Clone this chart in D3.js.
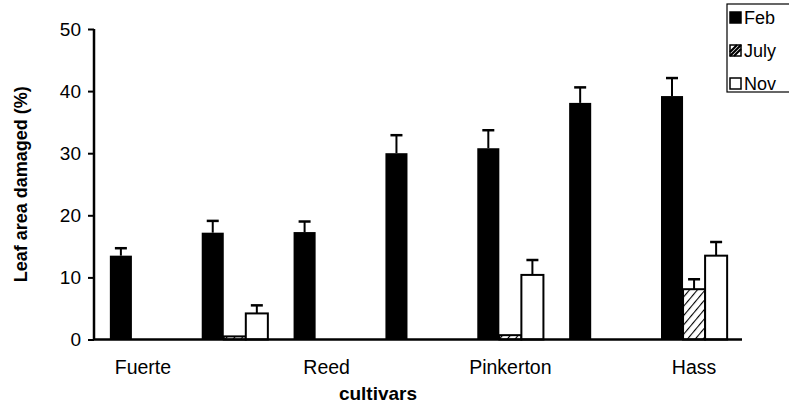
<!DOCTYPE html>
<html>
<head>
<meta charset="utf-8">
<script src="https://cdn.jsdelivr.net/npm/d3@7"></script>
<style>
  body { margin: 0; background: #fff; }
  text { font-family: "Liberation Sans", Arial, sans-serif; fill: #000; }
</style>
</head>
<body>
<script>
// cultivar groups (only every other one is labelled on the axis)
const categories = ['Fuerte', 'g2', 'Reed', 'g4', 'Pinkerton', 'g6', 'Hass']
const tickLabels = ['Fuerte', '', 'Reed', '', 'Pinkerton', '', 'Hass']
const seasons = ['Feb', 'July', 'Nov']

const feb = [13.5, 17.2, 17.3, 30.0, 30.8, 38.1, 39.2]
const febErr = [1.2, 1.9, 1.7, 2.9, 2.9, 2.5, 2.9]
const july = [null, 0.5, null, null, 0.7, null, 8.1]
const julyErr = [null, 0, null, null, 0, null, 1.6]
const nov = [null, 4.2, null, null, 10.4, null, 13.5]
const novErr = [null, 1.3, null, null, 2.4, null, 2.2]

const yTicks = [0, 10, 20, 30, 40, 50]

const W = 789, H = 407
const svg = d3.select('body').append('svg').attr('width', W).attr('height', H)

const defs = svg.append('defs')
const hatch = defs.append('pattern')
  .attr('id', 'hatch')
  .attr('patternUnits', 'userSpaceOnUse')
  .attr('width', 6).attr('height', 6)
  .attr('patternTransform', 'rotate(40)')
hatch.append('rect').attr('width', 6).attr('height', 6).attr('fill', '#fff')
hatch.append('line')
  .attr('x1', 0).attr('y1', 0).attr('x2', 0).attr('y2', 6)
  .attr('stroke', '#000').attr('stroke-width', 2.2)

const x = d3.scaleBand().domain(d3.range(categories.length)).range([97, 740])
  .paddingInner(0.28).paddingOuter(0.14)
const xs = d3.scaleBand().domain(seasons).range([0, x.bandwidth()])
const y = d3.scaleLinear().domain([0, 50]).range([339.5, 29])

const rows = []
categories.forEach((c, i) => {
  ;[[feb, febErr], [july, julyErr], [nov, novErr]].forEach(([vals, errs], k) => {
    if (vals[i] != null) rows.push({ i, s: seasons[k], v: vals[i], e: errs[i] })
  })
})

const fill = { Feb: '#000', July: 'url(#hatch)', Nov: '#fff' }

// bars
svg.append('g').selectAll('rect')
  .data(rows)
  .join('rect')
  .attr('x', d => x(d.i) + xs(d.s))
  .attr('width', xs.bandwidth())
  .attr('y', d => y(d.v))
  .attr('height', d => y(0) - y(d.v))
  .attr('fill', d => fill[d.s])
  .attr('stroke', '#000')
  .attr('stroke-width', d => d.s === 'Feb' ? 0 : 2)

// error bars
const eb = svg.append('g').attr('stroke', '#000').attr('stroke-width', 2)
  .selectAll('g')
  .data(rows.filter(d => d.e > 0))
  .join('g')
  .attr('transform', d => `translate(${x(d.i) + xs(d.s) + xs.bandwidth() / 2},0)`)
eb.append('line')
  .attr('y1', d => y(d.v)).attr('y2', d => y(d.v + d.e))
eb.append('line')
  .attr('x1', -6).attr('x2', 6)
  .attr('y1', d => y(d.v + d.e)).attr('y2', d => y(d.v + d.e))
  .attr('stroke-width', 2.5)

// y axis
const yAxis = svg.append('g')
  .attr('transform', 'translate(94,0)')
  .call(d3.axisLeft(y).tickValues(yTicks).tickSize(6).tickPadding(7))
yAxis.select('.domain').attr('d', `M0,${y(50)}V${y(0)}`).attr('stroke-width', 2.5)
yAxis.selectAll('.tick line').attr('stroke-width', 2)
yAxis.selectAll('.tick text')
  .attr('font-size', 19)
  .attr('font-family', '"Liberation Sans", Arial, sans-serif')

// x axis
const xAxis = svg.append('g')
  .attr('transform', `translate(0,${y(0)})`)
  .call(d3.axisBottom(x).tickSize(0).tickPadding(21).tickFormat(i => tickLabels[i]))
xAxis.select('.domain').attr('d', 'M94,0H742').attr('stroke-width', 2.5)
xAxis.selectAll('.tick text')
  .attr('font-size', 19.5)
  .attr('font-family', '"Liberation Sans", Arial, sans-serif')

// axis titles
svg.append('text')
  .attr('x', 378).attr('y', 400)
  .attr('text-anchor', 'middle')
  .attr('font-size', 19).attr('font-weight', 'bold')
  .text('cultivars')

svg.append('text')
  .attr('transform', `translate(27,${(y(0) + y(50)) / 2}) rotate(-90)`)
  .attr('text-anchor', 'middle')
  .attr('font-size', 18).attr('font-weight', 'bold')
  .text('Leaf area damaged (%)')

// legend
const lg = svg.append('g').attr('transform', 'translate(727,4)')
lg.append('rect')
  .attr('width', 80).attr('height', 88)
  .attr('fill', '#fff').attr('stroke', '#000').attr('stroke-width', 1.2)
const item = lg.selectAll('g.item')
  .data(seasons)
  .join('g')
  .attr('class', 'item')
  .attr('transform', (d, i) => `translate(3,${14 + i * 33})`)
item.append('rect')
  .attr('x', 0).attr('y', -6)
  .attr('width', 11).attr('height', 11)
  .attr('fill', d => d === 'July' ? '#fff' : fill[d])
  .attr('stroke', '#000').attr('stroke-width', 1.5)
item.filter(d => d === 'July').append('path')
  .attr('d', 'M0,5L11,-6M0,1L7,-6M4,5L11,-2')
  .attr('stroke', '#000').attr('stroke-width', 2.2)
item.append('text')
  .attr('x', 14).attr('y', 6)
  .attr('font-size', 18)
  .text(d => d)
</script>
</body>
</html>
